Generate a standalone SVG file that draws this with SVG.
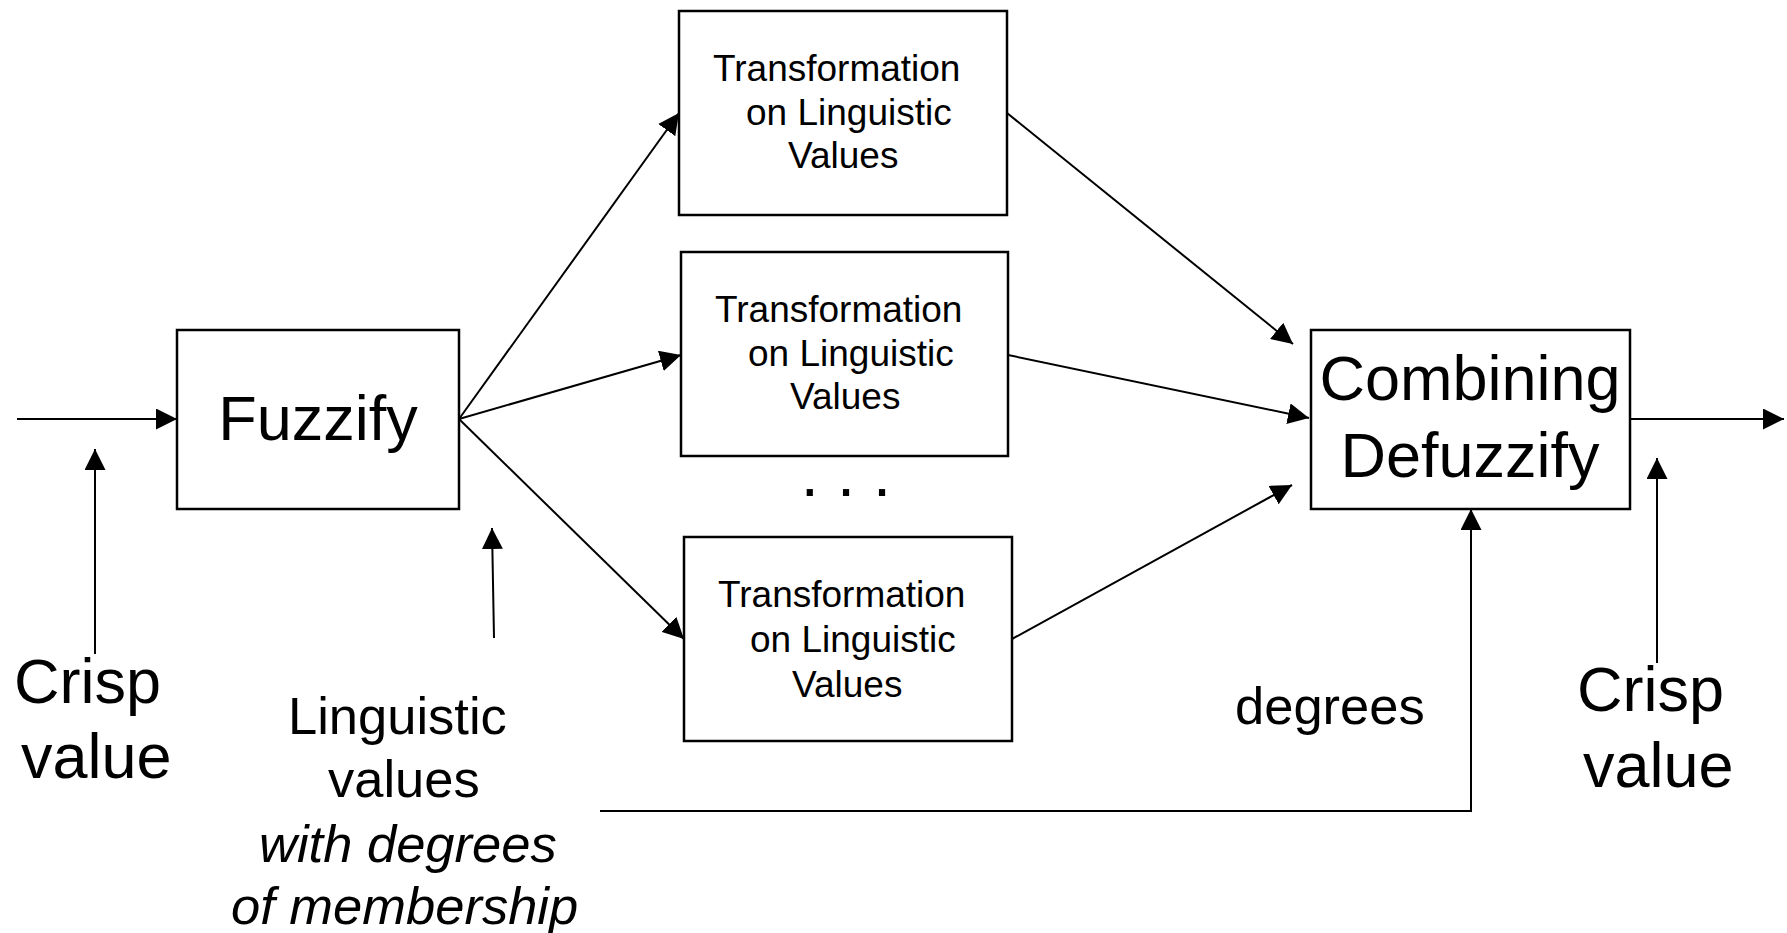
<svg xmlns="http://www.w3.org/2000/svg" width="1787" height="933" viewBox="0 0 1787 933">
<style>
.box{fill:#fff;stroke:#000;stroke-width:2.5}
.ln{fill:none;stroke:#000;stroke-width:2}
.t{font-family:"Liberation Sans",Arial,Helvetica,sans-serif;fill:#000}
.big{font-size:63px}
.sm{font-size:37px}
.lab{font-size:52.5px}
.it{font-style:italic}
</style>
<defs>
<marker id="ah" viewBox="0 0 21 21" refX="21" refY="10.5" markerWidth="21" markerHeight="21" markerUnits="userSpaceOnUse" orient="auto">
<path d="M0,0 L21,10.5 L0,21 Z" fill="#000"/>
</marker>
</defs>
<rect width="1787" height="933" fill="#fff"/>
<g id="connectors">
<line class="ln" x1="17" y1="419" x2="177" y2="419" marker-end="url(#ah)"/>
<line class="ln" x1="95" y1="654" x2="95" y2="449" marker-end="url(#ah)"/>
<line class="ln" x1="494" y1="638" x2="492" y2="528" marker-end="url(#ah)"/>
<line class="ln" x1="459" y1="419" x2="679" y2="113" marker-end="url(#ah)"/>
<line class="ln" x1="459" y1="419" x2="681" y2="355" marker-end="url(#ah)"/>
<line class="ln" x1="459" y1="419" x2="684" y2="639" marker-end="url(#ah)"/>
<line class="ln" x1="1007" y1="113" x2="1293" y2="344" marker-end="url(#ah)"/>
<line class="ln" x1="1008" y1="355" x2="1309" y2="418" marker-end="url(#ah)"/>
<line class="ln" x1="1012" y1="639" x2="1292" y2="485" marker-end="url(#ah)"/>
<polyline class="ln" points="600,811 1471,811 1471,509" marker-end="url(#ah)"/>
<line class="ln" x1="1630" y1="419" x2="1784" y2="419" marker-end="url(#ah)"/>
<line class="ln" x1="1657" y1="663" x2="1657" y2="458" marker-end="url(#ah)"/>
</g>
<g id="fuzzify">
<rect class="box" x="177" y="330" width="282" height="179"/>
<text class="t big" x="318" y="440" text-anchor="middle">Fuzzify</text>
</g>
<g id="transform1">
<rect class="box" x="679" y="11" width="328" height="204"/>
<text class="t sm" x="713" y="81">Transformation</text>
<text class="t sm" x="746" y="125">on Linguistic</text>
<text class="t sm" x="788" y="168">Values</text>
</g>
<g id="transform2">
<rect class="box" x="681" y="252" width="327" height="204"/>
<text class="t sm" x="715" y="322">Transformation</text>
<text class="t sm" x="748" y="366">on Linguistic</text>
<text class="t sm" x="790" y="409">Values</text>
</g>
<g id="ellipsis">
<text class="t" x="846" y="496" font-size="65" text-anchor="middle">. . .</text>
</g>
<g id="transform3">
<rect class="box" x="684" y="537" width="328" height="204"/>
<text class="t sm" x="718" y="607">Transformation</text>
<text class="t sm" x="750" y="652">on Linguistic</text>
<text class="t sm" x="792" y="697">Values</text>
</g>
<g id="combining">
<rect class="box" x="1311" y="330" width="319" height="179"/>
<text class="t big" x="1470" y="400" text-anchor="middle">Combining</text>
<text class="t big" x="1470" y="477" text-anchor="middle">Defuzzify</text>
</g>
<g id="crisp-in">
<text class="t big" x="14" y="703">Crisp</text>
<text class="t big" x="21" y="778">value</text>
</g>
<g id="linguistic-label">
<text class="t lab" x="288" y="734">Linguistic</text>
<text class="t lab" x="328" y="797">values</text>
<text class="t lab it" x="259" y="862">with degrees</text>
<text class="t lab it" x="231" y="924">of membership</text>
</g>
<g id="degrees-label">
<text class="t lab" x="1235" y="724">degrees</text>
</g>
<g id="crisp-out">
<text class="t big" x="1577" y="711">Crisp</text>
<text class="t big" x="1583" y="787">value</text>
</g>
</svg>
